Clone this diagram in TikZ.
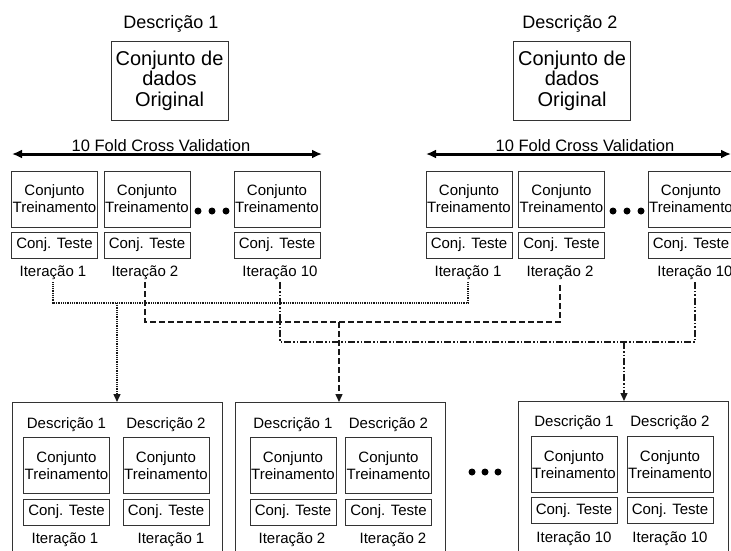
\documentclass[tikz,border=0pt]{standalone}
\usepackage{fontspec}
\setmainfont{Liberation Sans}
\usetikzlibrary{arrows.meta}
\begin{document}
\begin{tikzpicture}[x=1pt,y=-1pt,
  frame/.style={draw=black!80, line width=0.9pt},
  orig/.style={frame, minimum width=117pt, minimum height=79pt, inner sep=0pt, align=center, font=\fontsize{20}{20.5}\selectfont},
  trn/.style={frame, minimum width=86pt, minimum height=56pt, inner sep=0pt, align=center, font=\fontsize{15}{17}\selectfont},
  tst/.style={frame, minimum width=86pt, minimum height=26pt, inner sep=0pt, font=\fontsize{15}{17}\selectfont},
  lbl/.style={anchor=base, inner sep=0pt, inner ysep=3pt, font=\fontsize{15}{17}\selectfont},
  big/.style={anchor=base, inner sep=0pt, font=\fontsize{18}{20}\selectfont},
  cvl/.style={anchor=base, inner sep=0pt, font=\fontsize{16.5}{18}\selectfont},
  cvarrow/.style={line width=3pt, {Latex[length=10pt,width=9pt]}-{Latex[length=10pt,width=9pt]}},
  conn/.style={line width=1.4pt, black!90},
  cdot/.style={conn, dash pattern=on 1pt off 0.8pt},
  cdash/.style={conn, dash pattern=on 6pt off 3pt},
  cdd/.style={conn, dash pattern=on 7pt off 2pt on 1.5pt off 2pt on 1.5pt off 2pt},
  tip/.style={-{Triangle[length=8pt,width=7pt]}},
  bigbox/.style={frame, minimum width=210pt, minimum height=160pt, anchor=north west, inner sep=0pt}
]
\useasboundingbox (0,0) rectangle (731,550);

% ---------- Descricao 1 ----------
\node[big] (t1) at (171,28) {Descrição 1};
\node[orig] (o1) at (169.5,80.5) {Conjunto de\\dados\\Original};
\node[cvl] (cv1) at (161,151) {10 Fold Cross Validation};
\coordinate (a1l) at (12,154);
\coordinate (a1r) at (322,154);
\draw[cvarrow] (a1l) -- (a1r);

\node[trn] (d1t1) at (54.5,199) {Conjunto\\Treinamento};
\node[trn] (d1t2) at (147,199) {Conjunto\\Treinamento};
\node[trn] (d1t3) at (277,199) {Conjunto\\Treinamento};
\node[tst] (d1s1) at (54.5,245) {Conj. Teste};
\node[tst] (d1s2) at (147,245) {Conj. Teste};
\node[tst] (d1s3) at (277,245) {Conj. Teste};
\node[lbl] (d1i1) at (53,276) {Iteração 1};
\node[lbl] (d1i2) at (145,276) {Iteração 2};
\node[lbl] (d1i3) at (280,276) {Iteração 10};
\fill (198,211) circle (3.5) (212,211) circle (3.5) (226,211) circle (3.5);

% ---------- Descricao 2 ----------
\node[big] (t2) at (570,28) {Descrição 2};
\node[orig] (o2) at (572,80.5) {Conjunto de\\dados\\Original};
\node[cvl] (cv2) at (585,151) {10 Fold Cross Validation};
\coordinate (a2l) at (426,154);
\coordinate (a2r) at (731,154);
\draw[cvarrow] (a2l) -- (a2r);

\node[trn] (d2t1) at (469,199) {Conjunto\\Treinamento};
\node[trn] (d2t2) at (561.5,199) {Conjunto\\Treinamento};
\node[trn] (d2t3) at (691,199) {Conjunto\\Treinamento};
\node[tst] (d2s1) at (469,245) {Conj. Teste};
\node[tst] (d2s2) at (561.5,245) {Conj. Teste};
\node[tst] (d2s3) at (691,245) {Conj. Teste};
\node[lbl] (d2i1) at (468,276) {Iteração 1};
\node[lbl] (d2i2) at (560,276) {Iteração 2};
\node[lbl] (d2i3) at (695,276) {Iteração 10};
\fill (613,211) circle (3.5) (627,211) circle (3.5) (641,211) circle (3.5);

% ---------- bottom boxes ----------
\node[bigbox] (bb1) at (12,402) {};
\node[bigbox] (bb2) at (235,402) {};
\node[bigbox] (bb3) at (518,401) {};
\fill (472,472) circle (3.5) (485,472) circle (3.5) (498,472) circle (3.5);

% box 1
\node[lbl] (b1l1) at (66.5,428) {Descrição 1};
\node[lbl] (b1l2) at (166,428) {Descrição 2};
\node[trn] (b1t1) at (66.5,465.5) {Conjunto\\Treinamento};
\node[trn] (b1t2) at (166,465.5) {Conjunto\\Treinamento};
\node[tst] (b1s1) at (66.5,512) {Conj. Teste};
\node[tst] (b1s2) at (166,512) {Conj. Teste};
\node[lbl] (b1i1) at (65,543) {Iteração 1};
\node[lbl] (b1i2) at (171,543) {Iteração 1};

% box 2
\node[lbl] (b2l1) at (293,428) {Descrição 1};
\node[lbl] (b2l2) at (388.5,428) {Descrição 2};
\node[trn] (b2t1) at (293,465.5) {Conjunto\\Treinamento};
\node[trn] (b2t2) at (388.5,465.5) {Conjunto\\Treinamento};
\node[tst] (b2s1) at (293,512) {Conj. Teste};
\node[tst] (b2s2) at (388.5,512) {Conj. Teste};
\node[lbl] (b2i1) at (292,543) {Iteração 2};
\node[lbl] (b2i2) at (393,543) {Iteração 2};

% box 3
\node[lbl] (b3l1) at (574,426) {Descrição 1};
\node[lbl] (b3l2) at (670,426) {Descrição 2};
\node[trn] (b3t1) at (574,464.5) {Conjunto\\Treinamento};
\node[trn] (b3t2) at (670,464.5) {Conjunto\\Treinamento};
\node[tst] (b3s1) at (574,510.5) {Conj. Teste};
\node[tst] (b3s2) at (670,510.5) {Conj. Teste};
\node[lbl] (b3i1) at (574,542) {Iteração 10};
\node[lbl] (b3i2) at (670,542) {Iteração 10};

% ---------- connectors ----------
\coordinate (h1) at (117,303);
\coordinate (h2) at (339,322);
\coordinate (h3) at (624,342);
\draw[cdot] (d1i1.south) |- (h1) -| (d2i1.south);
\draw[cdot,tip] (h1) -- (h1 |- bb1.north);
\draw[cdash] (d1i2.south) |- (h2) -| (d2i2.south);
\draw[cdash,tip] (h2) -- (h2 |- bb2.north);
\draw[cdd] (d1i3.south) |- (h3) -| (d2i3.south);
\draw[cdd,tip] (h3) -- (h3 |- bb3.north);
\end{tikzpicture}
\end{document}
